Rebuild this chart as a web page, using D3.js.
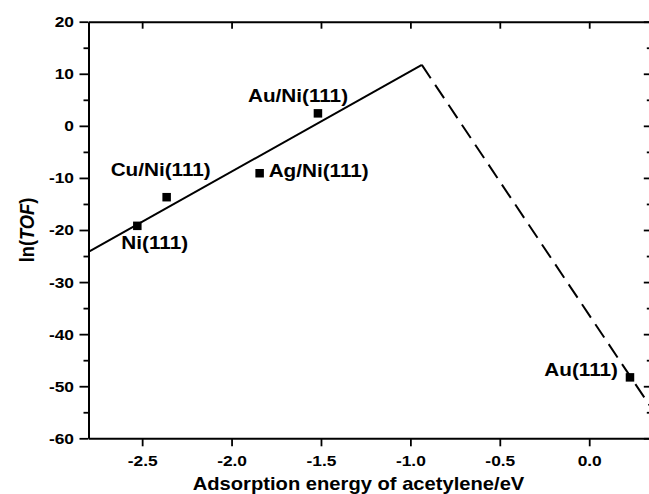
<!DOCTYPE html>
<html>
<head>
<meta charset="utf-8">
<script src="https://cdn.jsdelivr.net/npm/d3@7"></script>
<style>
  body { margin: 0; background: #fff; }
  svg { display: block; }
  text { font-family: "Liberation Sans", Arial, sans-serif; font-weight: bold; fill: #000; }
</style>
</head>
<body>
<div id="chart"></div>
<script>
// catalyst surfaces and their values
const names = ['Ni(111)', 'Cu/Ni(111)', 'Ag/Ni(111)', 'Au/Ni(111)', 'Au(111)'];
const energies = [-2.527, -2.363, -1.843, -1.517, 0.228];
const lnTOF = [-19.2, -13.7, -9.1, 2.4, -48.3];

// volcano branches
const solidX = [-2.8, -0.936];
const solidY = [-24.2, 11.7];
const dashX = [-0.936, 0.35];
const dashY = [11.7, -54.3];

const xTicks = [-2.5, -2.0, -1.5, -1.0, -0.5, 0.0];
const yTicks = [-60, -50, -40, -30, -20, -10, 0, 10, 20];
const yMinor = [-55, -45, -35, -25, -15, -5, 5, 15];

// label offsets from the marker (px)
const labelPos = {
  'Ni(111)':    { dx: -16, dy: 23,  anchor: 'start' },
  'Cu/Ni(111)': { dx: -56, dy: -21, anchor: 'start' },
  'Ag/Ni(111)': { dx: 9,   dy: 4,   anchor: 'start' },
  'Au/Ni(111)': { dx: -70, dy: -11, anchor: 'start' },
  'Au(111)':    { dx: -12, dy: -1,  anchor: 'end' }
};

const W = 649, H = 494;
const plotL = 88.5, plotR = 651.8, plotT = 21.7, plotB = 438.3;
const stretch = 1.12; // glyphs in the figure are a bit wide

const svg = d3.select('#chart').append('svg')
  .attr('width', W)
  .attr('height', H);

const x = d3.scaleLinear().domain([-2.8, 0.35]).range([plotL, plotR]);
const y = d3.scaleLinear().domain([-60, 20]).range([plotB, plotT]);

// bottom axis
const gx = svg.append('g')
  .attr('transform', `translate(0,${plotB})`)
  .call(d3.axisBottom(x).tickValues(xTicks).tickFormat(d => d.toFixed(1)).tickSize(8).tickSizeOuter(0));
gx.selectAll('.tick text')
  .attr('y', null).attr('dy', null)
  .attr('transform', `translate(0,28) scale(${stretch},1)`);

// top axis, ticks inward
svg.append('g')
  .attr('transform', `translate(0,${plotT})`)
  .call(d3.axisBottom(x).tickValues(xTicks).tickFormat('').tickSize(7).tickSizeOuter(0));

// left axis
const gy = svg.append('g')
  .attr('transform', `translate(${plotL},0)`)
  .call(d3.axisLeft(y).tickValues(yTicks).tickFormat(d => String(d)).tickSize(9).tickSizeOuter(0));
gy.selectAll('.tick text')
  .attr('x', null)
  .attr('transform', `translate(-14.5,0) scale(${stretch},1)`);
svg.append('g')
  .attr('transform', `translate(${plotL},0)`)
  .call(d3.axisLeft(y).tickValues(yMinor).tickFormat('').tickSize(5).tickSizeOuter(0))
  .select('.domain').remove();

// right axis, ticks inward
svg.append('g')
  .attr('transform', `translate(${plotR},0)`)
  .call(d3.axisLeft(y).tickValues(yTicks).tickFormat('').tickSize(8).tickSizeOuter(0));
svg.append('g')
  .attr('transform', `translate(${plotR},0)`)
  .call(d3.axisLeft(y).tickValues(yMinor).tickFormat('').tickSize(5).tickSizeOuter(0))
  .select('.domain').remove();

svg.selectAll('.domain').attr('stroke', '#000').attr('stroke-width', 2);
svg.selectAll('.tick line').attr('stroke', '#000').attr('stroke-width', 1.8);
svg.selectAll('.tick text')
  .style('font-size', '15.5px')
  .style('font-family', '"Liberation Sans", Arial, sans-serif')
  .style('font-weight', 'bold');

// axis titles
svg.append('text')
  .attr('transform', `translate(358.5,489.5) scale(${stretch},1)`)
  .attr('text-anchor', 'middle')
  .style('font-size', '18px')
  .text('Adsorption energy of acetylene/eV');

const yt = svg.append('text')
  .attr('transform', `translate(34,${(plotT + plotB) / 2}) rotate(-90) scale(1,${stretch})`)
  .attr('text-anchor', 'middle')
  .style('font-size', '18.3px');
yt.append('tspan').text('ln(');
yt.append('tspan').style('font-style', 'italic').text('TOF');
yt.append('tspan').text(')');

// fitted lines
const line = d3.line().x(d => x(d[0])).y(d => y(d[1]));

svg.append('path')
  .datum(d3.zip(solidX, solidY))
  .attr('d', line)
  .attr('fill', 'none')
  .attr('stroke', '#000')
  .attr('stroke-width', 2);

svg.append('path')
  .datum(d3.zip(dashX, dashY))
  .attr('d', line)
  .attr('fill', 'none')
  .attr('stroke', '#000')
  .attr('stroke-width', 2)
  .attr('stroke-dasharray', '16,8');

// points
const pts = d3.zip(names, energies, lnTOF);
const sq = 8.5;

svg.append('g').selectAll('rect')
  .data(pts)
  .join('rect')
  .attr('x', d => x(d[1]) - sq / 2)
  .attr('y', d => y(d[2]) - sq / 2)
  .attr('width', sq)
  .attr('height', sq)
  .attr('fill', '#000');

svg.append('g').selectAll('text')
  .data(pts)
  .join('text')
  .attr('transform', d => `translate(${x(d[1]) + labelPos[d[0]].dx},${y(d[2]) + labelPos[d[0]].dy}) scale(${stretch},1)`)
  .attr('text-anchor', d => labelPos[d[0]].anchor)
  .style('font-size', '18.5px')
  .text(d => d[0]);
</script>
</body>
</html>
